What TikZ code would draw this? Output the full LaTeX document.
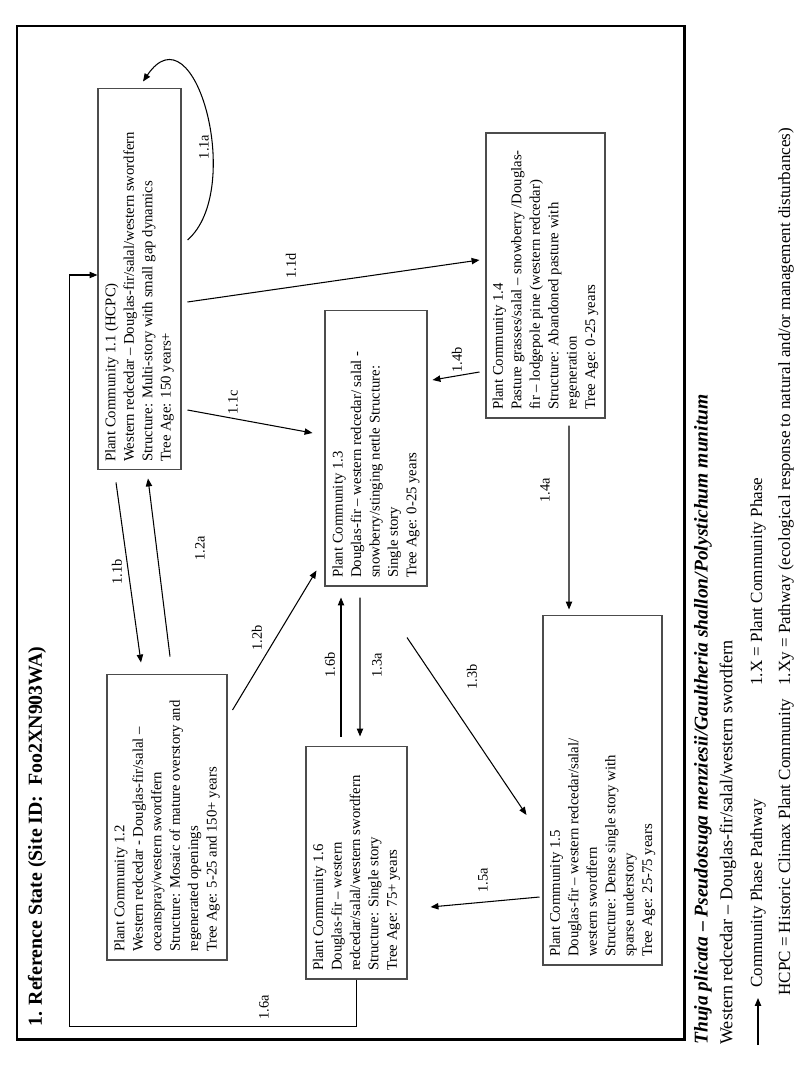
\documentclass[tikz,border=0pt]{standalone}
\usepackage{fontspec}
\setmainfont{Liberation Serif}
\usepackage{graphicx}
\usetikzlibrary{arrows.meta,calc}

\newcommand{\phasetext}[2]{\rotatebox{90}{\parbox{#1}{\raggedright #2}}}

\tikzset{
  community/.style={draw=black!70,line width=0.6pt,rectangle,inner sep=0pt,font=\fontsize{8.4}{10.5}\selectfont},
  pathway/.style={line width=0.6pt,-{Triangle[length=4.5pt,width=3.6pt]}},
  pathlabel/.style={rotate=90,font=\fontsize{8.2}{10}\selectfont,inner sep=1pt},
  legendtext/.style={rotate=90,anchor=west,inner sep=0pt,font=\fontsize{9.7}{12}\selectfont},
}

\begin{document}
\begin{tikzpicture}[x=0.02cm,y=-0.02cm]
\useasboundingbox (0,0) rectangle (800,1067);

\draw[line width=1.7pt] (17,26) rectangle (684,1039);
\node[rotate=90,anchor=west,inner sep=0pt,font=\fontsize{11.3}{13}\selectfont\bfseries] (title) at (37,1027) {1. Reference State (Site ID:\ \ Foo2XN903WA)};

\node[community,minimum width=1.66cm,minimum height=7.64cm] (pc11) at (139.5,279) {\phasetext{7.32cm}{Plant Community 1.1 (HCPC)\\Western redcedar – Douglas-fir/salal/western swordfern\\Structure: Multi-story with small gap dynamics\\Tree Age: 150 years+}};
\node[community,minimum width=2.40cm,minimum height=5.72cm] (pc12) at (167,817) {\phasetext{5.40cm}{Plant Community 1.2\\Western redcedar - Douglas-fir/salal –\\oceanspray/western swordfern\\Structure: Mosaic of mature overstory and\\regenerated openings\\Tree Age: 5-25 and 150+ years}};
\node[community,minimum width=2.04cm,minimum height=5.52cm] (pc13) at (376,448) {\phasetext{5.20cm}{Plant Community 1.3\\Douglas-fir – western redcedar/ salal -\\snowberry/stinging nettle Structure:\\Single story\\Tree Age: 0-25 years}};
\node[community,minimum width=2.38cm,minimum height=5.70cm] (pc14) at (545.5,275.5) {\phasetext{5.38cm}{Plant Community 1.4\\Pasture grasses/salal – snowberry /Douglas-\\fir – lodgepole pine (western redcedar)\\Structure: Abandoned pasture with\\regeneration\\Tree Age: 0-25 years}};
\node[community,minimum width=2.38cm,minimum height=7.00cm] (pc15) at (602.5,790) {\phasetext{6.68cm}{Plant Community 1.5\\Douglas-fir – western redcedar/salal/\\western swordfern\\Structure: Dense single story with\\sparse understory\\Tree Age: 25-75 years}};
\node[community,minimum width=2.02cm,minimum height=4.66cm] (pc16) at (356.5,862.5) {\phasetext{4.34cm}{Plant Community 1.6\\Douglas-fir – western\\redcedar/salal/western swordfern\\Structure: Single story\\Tree Age: 75+ years}};

\draw[pathway] ($(pc11.east)+(6,-39)$) .. controls (245,190) and (195,5) .. ($(pc11.north)+(3.5,-6)$);
\draw[pathway] ($(pc11.south)+(-23.5,12)$) -- ($(pc12.north)+(-26,-11)$);
\draw[pathway] ($(pc12.north)+(3,-17)$) -- ($(pc11.south)+(8.5,8)$);
\draw[pathway] ($(pc11.east)+(6,131)$) -- ($(pc13.west)+(-12,-15)$);
\draw[pathway] ($(pc11.east)+(6,23)$) -- ($(pc14.west)+(-6,-15.5)$);
\draw[pathway] ($(pc14.west)+(-6,96.5)$) -- ($(pc13.east)+(5,-68)$);
\draw[pathway] ($(pc14.south)+(23.5,7)$) -- ($(pc15.north)+(-33.5,-5)$);
\draw[pathway] ($(pc12.east)+(5,-107)$) -- ($(pc13.south west)+(-8,-16)$);
\draw[pathway] ($(pc16.north)+(-15.5,-9)$) -- ($(pc13.south)+(-35,11)$);
\draw[pathway] ($(pc13.south)+(-16,11)$) -- ($(pc16.north)+(3.5,-9)$);
\draw[pathway] ($(pc13.south)+(31,51)$) -- ($(pc15.west)+(-16,25)$);
\draw[pathway] ($(pc15.west)+(-3,107)$) -- ($(pc16.east)+(23,44.5)$);
\draw[pathway] (pc16.south) -- ++(0,47) -| ($(pc11.west)+(-28,-4)$) -- ($(pc11.west)+(0,-4)$);

\node[pathlabel] (l11a) at (204,147) {1.1a};
\node[pathlabel] (l11b) at (117,572) {1.1b};
\node[pathlabel] (l12a) at (200,548) {1.2a};
\node[pathlabel] (l11c) at (233,402) {1.1c};
\node[pathlabel] (l11d) at (291,266) {1.1d};
\node[pathlabel] (l14b) at (457,360) {1.4b};
\node[pathlabel] (l14a) at (545,490) {1.4a};
\node[pathlabel] (l12b) at (257,638) {1.2b};
\node[pathlabel] (l16b) at (330,665) {1.6b};
\node[pathlabel] (l13a) at (377,665) {1.3a};
\node[pathlabel] (l13b) at (472,677) {1.3b};
\node[pathlabel] (l15a) at (483,880) {1.5a};
\node[pathlabel] (l16a) at (264,1007) {1.6a};

\node[rotate=90,anchor=west,inner sep=0pt,font=\fontsize{11.1}{13}\selectfont\bfseries] (species) at (703,1045) {\textit{Thuja plicata} – \textit{Pseudotsuga menziesii/Gaultheria shallon/Polystichum munitum}};
\node[rotate=90,anchor=west,inner sep=0pt,font=\fontsize{10.3}{12}\selectfont] (common) at (728,1045) {Western redcedar – Douglas-fir/salal/western swordfern};

\coordinate (legtail) at (758,1045);
\coordinate (leghead) at (758,998);
\draw[pathway] (legtail) -- (leghead);
\node[legendtext] (leg1) at (758,988) {Community Phase Pathway};
\node[legendtext] (leg2) at (786,996) {HCPC = Historic Climax Plant Community};
\node[legendtext] (leg3) at (758,686) {1.X = Plant Community Phase};
\node[legendtext] (leg4) at (786,686) {1.Xy = Pathway (ecological response to natural and/or management disturbances)};

\end{tikzpicture}
\end{document}
